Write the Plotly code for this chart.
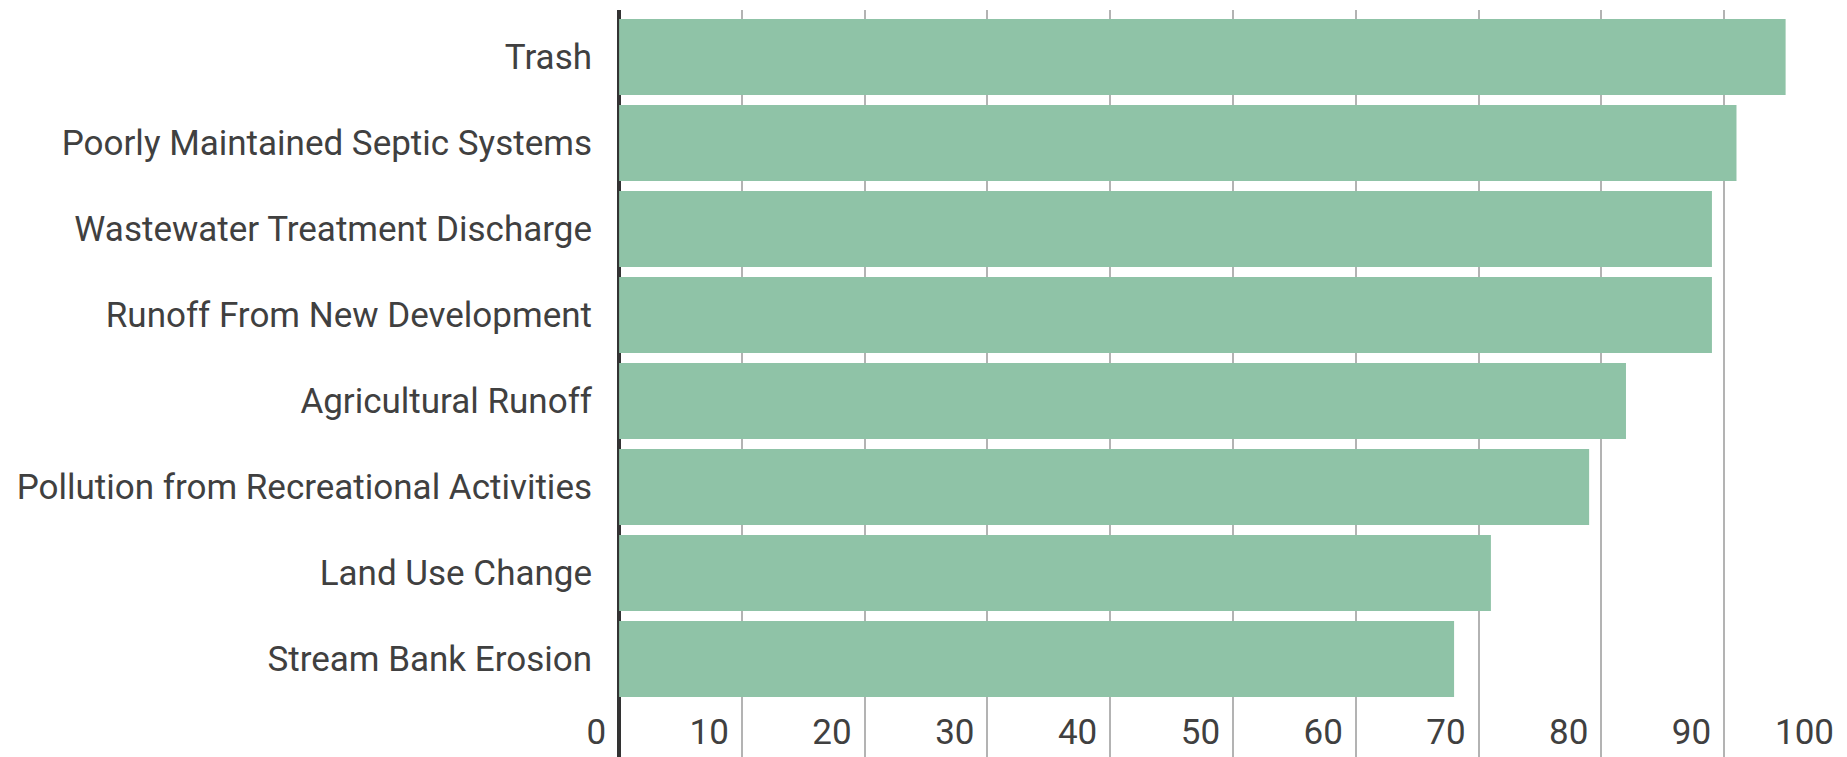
import plotly.graph_objects as go

# Survey results: share of respondents naming each pollution source as a concern
sources = [
    "Trash",
    "Poorly Maintained Septic Systems",
    "Wastewater Treatment Discharge",
    "Runoff From New Development",
    "Agricultural Runoff",
    "Pollution from Recreational Activities",
    "Land Use Change",
    "Stream Bank Erosion",
]
percent = [95, 91, 89, 89, 82, 79, 71, 68]
x_ticks = [0, 10, 20, 30, 40, 50, 60, 70, 80, 90, 100]

BAR_COLOR = "#8fc3a7"
TEXT_COLOR = "#404040"

fig = go.Figure(
    go.Bar(
        x=percent,
        y=sources,
        orientation="h",
        marker=dict(color=BAR_COLOR, line=dict(width=0)),
        hoverinfo="x+y",
    )
)

fig.update_layout(
    width=1847,
    height=757,
    margin=dict(l=570, r=0, t=10, b=0),
    paper_bgcolor="white",
    plot_bgcolor="white",
    bargap=0.116,
    showlegend=False,
    font=dict(family="Roboto", color=TEXT_COLOR),
)

# x axis starts a little below zero so the "0" label fits left of the zero line
fig.update_xaxes(
    range=[-4, 100],
    tickmode="array",
    tickvals=x_ticks,
    ticktext=[str(v) for v in x_ticks],
    ticklabelposition="inside left",
    ticklabelshift=-13,
    tickfont=dict(size=35, color=TEXT_COLOR),
    showgrid=True,
    gridcolor="#b3b3b3",
    gridwidth=2,
    zeroline=True,
    zerolinecolor="#333333",
    zerolinewidth=4,
    showline=False,
    ticks="",
    fixedrange=True,
)

fig.update_yaxes(
    categoryorder="array",
    categoryarray=sources,
    range=[8.14, -0.547],
    tickfont=dict(size=35, color=TEXT_COLOR),
    ticklabelstandoff=-23,
    showline=False,
    showgrid=False,
    zeroline=False,
    ticks="",
    fixedrange=True,
)

fig.write_html("out.html")
